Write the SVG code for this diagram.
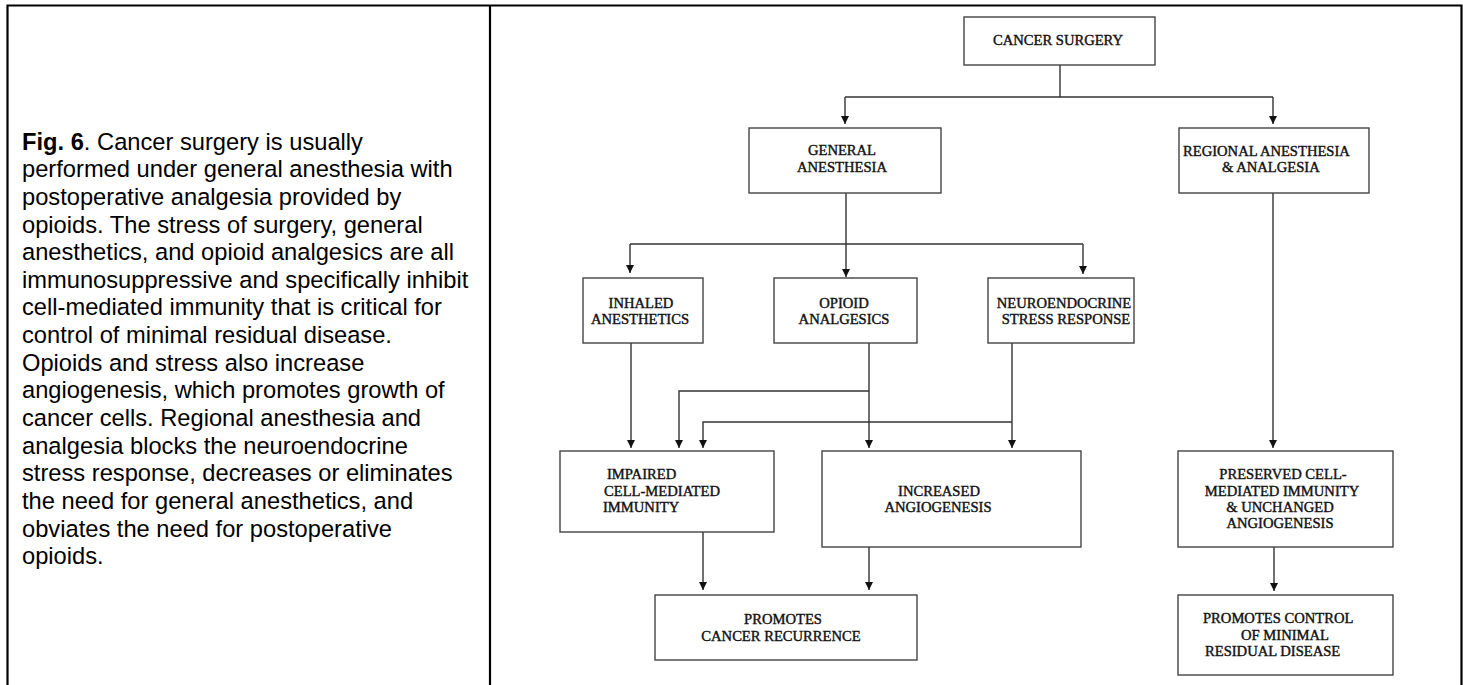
<svg xmlns="http://www.w3.org/2000/svg" width="1463" height="685" viewBox="0 0 1463 685">
<style>
.frame{fill:none;stroke:#000;stroke-width:2.2}
.box{fill:#fff;stroke:#444;stroke-width:1.4}
.lbl{font-family:"Liberation Serif","Times New Roman",serif;font-size:14.6px;fill:#111;stroke:#111;stroke-width:0.4}
.cap{font-family:"Liberation Sans",Arial,sans-serif;font-size:23.7px;fill:#000}
.con{fill:none;stroke:#333;stroke-width:1.4}
</style>
<defs>
<marker id="ah" viewBox="0 0 10 10" refX="10" refY="5" markerUnits="userSpaceOnUse" markerWidth="9" markerHeight="8" orient="auto">
<path d="M0,0 L10,5 L0,10 z" fill="#111"/>
</marker>
</defs>
<rect width="1463" height="685" fill="#fff"/>
<g id="frame">
<path class="frame" d="M7.5,690 V5.5 H1461.5 V690"/>
<line class="frame" x1="490" y1="5.5" x2="490" y2="690"/>
</g>
<g id="caption">
<text class="cap" x="22" y="149.5"><tspan font-weight="bold">Fig. 6</tspan>. Cancer surgery is usually</text>
<text class="cap" x="22" y="177.2">performed under general anesthesia with</text>
<text class="cap" x="22" y="204.8">postoperative analgesia provided by</text>
<text class="cap" x="22" y="232.5">opioids. The stress of surgery, general</text>
<text class="cap" x="22" y="260.1">anesthetics, and opioid analgesics are all</text>
<text class="cap" x="22" y="287.8">immunosuppressive and specifically inhibit</text>
<text class="cap" x="22" y="315.4">cell-mediated immunity that is critical for</text>
<text class="cap" x="22" y="343.1">control of minimal residual disease.</text>
<text class="cap" x="22" y="370.7">Opioids and stress also increase</text>
<text class="cap" x="22" y="398.4">angiogenesis, which promotes growth of</text>
<text class="cap" x="22" y="426">cancer cells. Regional anesthesia and</text>
<text class="cap" x="22" y="453.7">analgesia blocks the neuroendocrine</text>
<text class="cap" x="22" y="481.3">stress response, decreases or eliminates</text>
<text class="cap" x="22" y="509">the need for general anesthetics, and</text>
<text class="cap" x="22" y="536.6">obviates the need for postoperative</text>
<text class="cap" x="22" y="564.3">opioids.</text>
</g>
<g id="connectors">
<path class="con" d="M1060,65 V97"/>
<path class="con" d="M845,97 H1273"/>
<path class="con" d="M845,97 V124" marker-end="url(#ah)"/>
<path class="con" d="M1273,97 V124" marker-end="url(#ah)"/>
<path class="con" d="M846,193 V277" marker-end="url(#ah)"/>
<path class="con" d="M630,244 H1083"/>
<path class="con" d="M630,244 V273" marker-end="url(#ah)"/>
<path class="con" d="M1083,244 V274" marker-end="url(#ah)"/>
<path class="con" d="M631,343 V448" marker-end="url(#ah)"/>
<path class="con" d="M869,343 V448" marker-end="url(#ah)"/>
<path class="con" d="M869,391 H679 V448" marker-end="url(#ah)"/>
<path class="con" d="M1012,343 V448" marker-end="url(#ah)"/>
<path class="con" d="M1012,422 H703 V448" marker-end="url(#ah)"/>
<path class="con" d="M703,532 V590" marker-end="url(#ah)"/>
<path class="con" d="M869,547 V590" marker-end="url(#ah)"/>
<path class="con" d="M1273,193 V448" marker-end="url(#ah)"/>
<path class="con" d="M1274,533 V591" marker-end="url(#ah)"/>
</g>
<g id="cancer-surgery">
<rect class="box" x="964" y="17" width="191" height="48"/>
<text class="lbl" x="1058" y="45" text-anchor="middle">CANCER SURGERY</text>
</g>
<g id="general-anesthesia">
<rect class="box" x="749" y="128" width="192" height="65"/>
<text class="lbl" x="842" y="155" text-anchor="middle">GENERAL</text>
<text class="lbl" x="842" y="172" text-anchor="middle">ANESTHESIA</text>
</g>
<g id="regional-anesthesia">
<rect class="box" x="1179" y="128" width="190" height="65"/>
<text class="lbl" x="1183" y="156">REGIONAL ANESTHESIA</text>
<text class="lbl" x="1222" y="172">&amp; ANALGESIA</text>
</g>
<g id="inhaled-anesthetics">
<rect class="box" x="583" y="278" width="120" height="65"/>
<text class="lbl" x="641" y="308" text-anchor="middle">INHALED</text>
<text class="lbl" x="640" y="324" text-anchor="middle">ANESTHETICS</text>
</g>
<g id="opioid-analgesics">
<rect class="box" x="774" y="278" width="143" height="65"/>
<text class="lbl" x="844" y="308" text-anchor="middle">OPIOID</text>
<text class="lbl" x="844" y="324" text-anchor="middle">ANALGESICS</text>
</g>
<g id="neuroendocrine">
<rect class="box" x="988" y="278" width="146" height="65"/>
<text class="lbl" x="1064" y="308" text-anchor="middle">NEUROENDOCRINE</text>
<text class="lbl" x="1066" y="324" text-anchor="middle">STRESS RESPONSE</text>
</g>
<g id="impaired-immunity">
<rect class="box" x="560" y="451" width="214" height="81"/>
<text class="lbl" x="607" y="479">IMPAIRED</text>
<text class="lbl" x="604" y="496">CELL-MEDIATED</text>
<text class="lbl" x="603" y="512">IMMUNITY</text>
</g>
<g id="increased-angiogenesis">
<rect class="box" x="822" y="451" width="259" height="96"/>
<text class="lbl" x="939" y="496" text-anchor="middle">INCREASED</text>
<text class="lbl" x="938" y="512" text-anchor="middle">ANGIOGENESIS</text>
</g>
<g id="promotes-recurrence">
<rect class="box" x="655" y="595" width="262" height="65"/>
<text class="lbl" x="783" y="624" text-anchor="middle">PROMOTES</text>
<text class="lbl" x="781" y="641" text-anchor="middle">CANCER RECURRENCE</text>
</g>
<g id="preserved-immunity">
<rect class="box" x="1178" y="451" width="215" height="96"/>
<text class="lbl" x="1283" y="479" text-anchor="middle">PRESERVED CELL-</text>
<text class="lbl" x="1282" y="496" text-anchor="middle">MEDIATED IMMUNITY</text>
<text class="lbl" x="1280" y="512" text-anchor="middle">&amp; UNCHANGED</text>
<text class="lbl" x="1280" y="528" text-anchor="middle">ANGIOGENESIS</text>
</g>
<g id="promotes-control">
<rect class="box" x="1178" y="595" width="215" height="80"/>
<text class="lbl" x="1203" y="623">PROMOTES CONTROL</text>
<text class="lbl" x="1241" y="640">OF MINIMAL</text>
<text class="lbl" x="1205" y="656">RESIDUAL DISEASE</text>
</g>
</svg>
